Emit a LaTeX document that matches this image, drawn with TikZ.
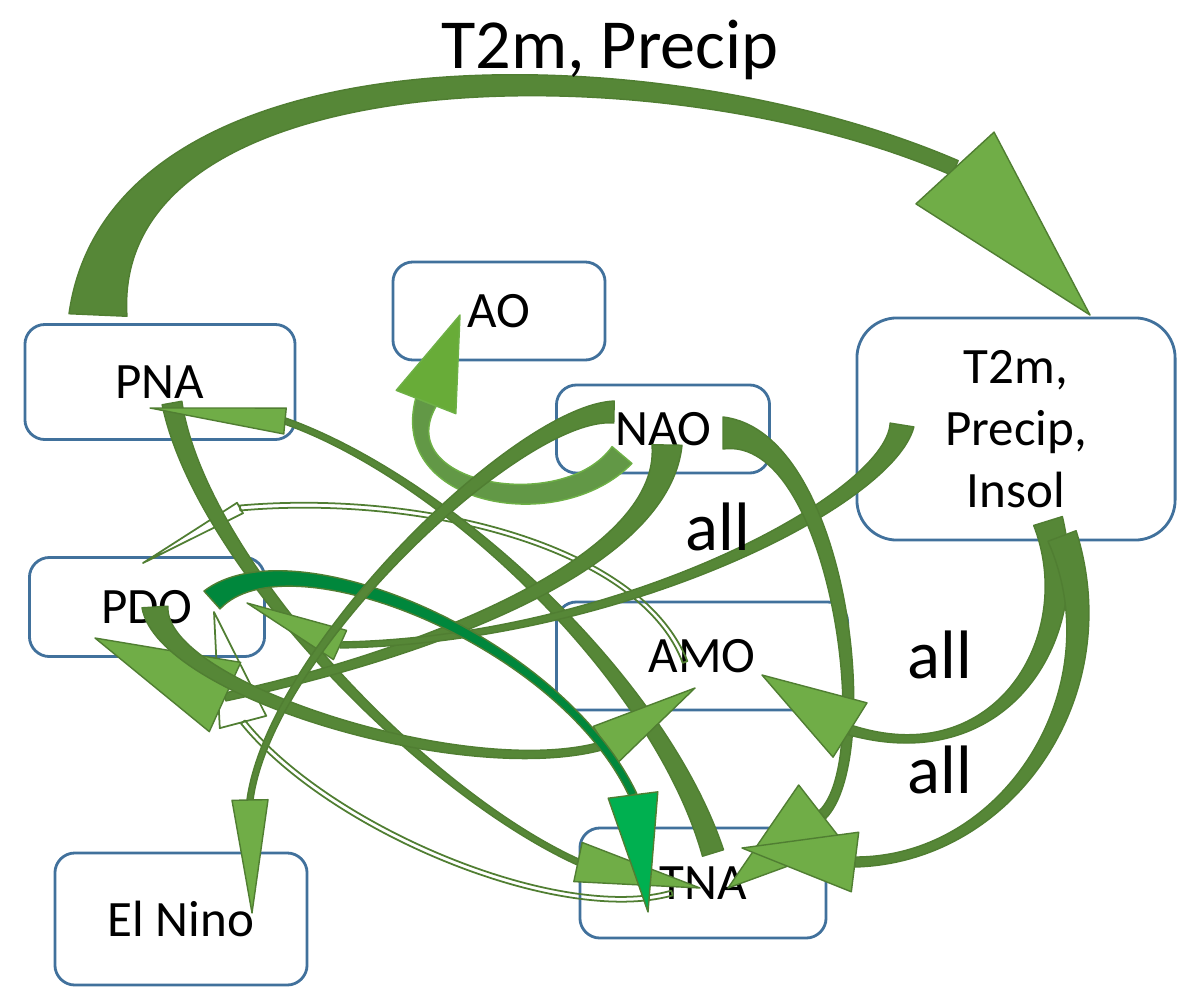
\documentclass[tikz,border=0pt]{standalone}
\usepackage{fontspec}
\setmainfont{Carlito}
\usetikzlibrary{calc}
\definecolor{boxblue}{RGB}{65,113,156}
\definecolor{armdark}{RGB}{86,135,55}
\definecolor{armlight}{RGB}{112,173,71}
\definecolor{armline}{RGB}{80,126,50}
\definecolor{brightdark}{RGB}{0,135,60}
\definecolor{brightlight}{RGB}{0,176,80}
\definecolor{aodark}{RGB}{98,152,70}
\definecolor{aolight}{RGB}{104,172,56}
\definecolor{aoline}{RGB}{110,176,70}

% tapered bent arrow: style, start, control 1, control 2, head base, tip, start half width, end half width, head half width
\newcommand{\bentarrow}[9]{%
  \path[body#1] ($(#2)!#7!90:(#3)$)
    .. controls ($(#3)!0.5*#7+0.5*#8!90:(#4)$) and ($(#4)!#8!-90:(#3)$) .. ($(#5)!#8!-90:(#4)$)
    -- ($(#5)!#8!90:(#4)$)
    .. controls ($(#4)!#8!90:(#3)$) and ($(#3)!0.5*#7+0.5*#8!-90:(#4)$) .. ($(#2)!#7!-90:(#3)$) -- cycle;
  \path[head#1] ($(#5)!#9!90:(#6)$) -- (#6) -- ($(#5)!#9!-90:(#6)$) -- cycle;}

\tikzset{
  box/.style={draw=boxblue, line width=0.8pt, rounded corners=2mm, fill=white, align=center,
    font=\fontsize{14.5}{17.6}\selectfont},
  body/.style={fill=armdark, draw=armline, line width=0.4pt},
  head/.style={fill=armlight, draw=armline, line width=0.4pt},
  bodybright/.style={fill=brightdark, draw=armline, line width=0.4pt},
  headbright/.style={fill=brightlight, draw=armline, line width=0.4pt},
  bodylight/.style={fill=aodark, draw=aoline, line width=0.4pt},
  headlight/.style={fill=aolight, draw=aoline, line width=0.4pt},
  bodythin/.style={draw=armline, line width=0.5pt},
  headthin/.style={draw=armline, line width=0.5pt},
  lbl/.style={font=\fontsize{19.5}{22}\selectfont}
}

\begin{document}
\begin{tikzpicture}[x=0.01cm, y=-0.01cm, line join=round]
\useasboundingbox (0,0) rectangle (1200,1003);

% boxes
\node[box, minimum width=2.7cm, minimum height=1.15cm] (PNA) at (160,382) {PNA};
\node[box, minimum width=2.12cm, minimum height=0.98cm] (AO) at (499,311) {AO};
\node[box, minimum width=2.13cm, minimum height=0.88cm] (NAO) at (663,429) {NAO};
\node[box, minimum width=3.18cm, minimum height=2.22cm, rounded corners=4mm] (T2m) at (1016,429) {T2m,\\Precip,\\Insol};
\node[box, minimum width=2.35cm, minimum height=0.99cm] (PDO) at (147,607) {PDO};
\node[box, minimum width=2.91cm, minimum height=1.08cm] (AMO) at (702,656) {AMO};
\node[box, minimum width=2.52cm, minimum height=1.32cm] (Nino) at (181,919) {El Nino};
\node[box, minimum width=2.46cm, minimum height=1.10cm] (TNA) at (703,883) {TNA};

% thin arrows
\bentarrow{thin}{685,662}{640,545}{420,492}{240,508}{143,563}{0.25mm}{0.25mm}{0.6mm}
\bentarrow{thin}{672,893}{560,925}{330,830}{243,722}{214,612}{0.25mm}{0.25mm}{2.4mm}

% PNA -> TNA, TNA -> PNA
\bentarrow{}{172,403}{200,560}{420,790}{578,862}{700,888}{1.0mm}{0.3mm}{2.0mm}
\bentarrow{}{713,853}{660,680}{450,480}{285,421}{150,408}{1.1mm}{0.3mm}{1.3mm}

% into PDO
\bentarrow{}{667,445}{665,570}{400,660}{225,697}{95,638}{1.5mm}{0.4mm}{3.8mm}
\bentarrow{}{902,425}{890,500}{620,640}{340,645}{247,603}{1.2mm}{0.3mm}{1.6mm}

% out of PDO
\bentarrow{}{155,607}{160,690}{470,785}{605,745}{695,688}{1.3mm}{0.4mm}{2.2mm}
\bentarrow{bright}{212,600}{290,530}{560,640}{633,795}{648,912}{1.2mm}{0.4mm}{2.5mm}

% out of NAO
\bentarrow{light}{622,455}{562,526}{389,496}{426,402}{460,315}{1.3mm}{1.1mm}{3.2mm}
\bentarrow{}{614,412}{520,410}{270,650}{250,800}{252,913}{1.1mm}{0.3mm}{1.8mm}
\bentarrow{}{723,433}{840,433}{880,760}{822,815}{728,888}{1.6mm}{0.5mm}{3.8mm}

% out of T2m box
\bentarrow{}{1048,521}{1085,640}{1000,775}{850,730}{762,675}{1.5mm}{0.5mm}{3.2mm}
\bentarrow{}{1062,536}{1120,690}{1010,860}{855,862}{742,848}{1.5mm}{0.5mm}{3.0mm}

% big arc
\bentarrow{}{98,315}{110,40}{660,40}{955,168}{1090,315}{2.9mm}{0.8mm}{5.3mm}

% labels
\node[font=\fontsize{20}{24}\selectfont] (title) at (610,50) {T2m, Precip};
\node[lbl] (all1) at (718,527) {all};
\node[lbl] (all2) at (940,655) {all};
\node[lbl] (all3) at (940,770) {all};
\end{tikzpicture}
\end{document}
